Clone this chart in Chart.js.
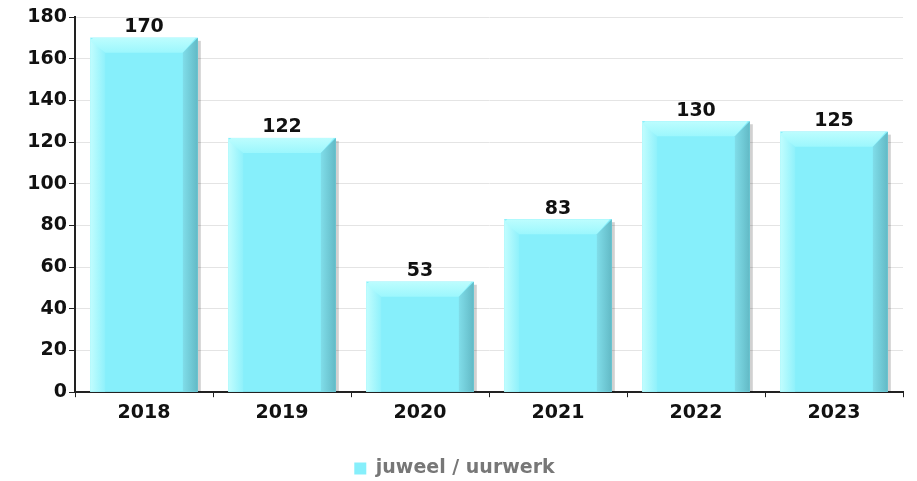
<!DOCTYPE html>
<html>
<head>
<meta charset="utf-8">
<script src="https://cdn.jsdelivr.net/npm/chart.js@4/dist/chart.umd.min.js"></script>
<style>
  html, body { margin: 0; padding: 0; background: #fff; }
  #wrap { width: 917px; height: 481px; }
</style>
</head>
<body>
<div id="wrap"><canvas id="myChart" width="917" height="481"></canvas></div>
<script>
// DATA
const years = ["2018", "2019", "2020", "2021", "2022", "2023"];
const seriesName = "juweel / uurwerk";
const counts = [170, 122, 53, 83, 130, 125];
const yTicks = [0, 20, 40, 60, 80, 100, 120, 140, 160, 180];

const FACE = "#86effb";
const BEVEL = 15;

// bevelled bar faces, drawn on top of the plain bars
const bevelBars = {
    id: "bevelBars",
    afterDatasetsDraw(chart) {
        const ctx = chart.ctx;
        const values = chart.data.datasets[0].data;
        chart.getDatasetMeta(0).data.forEach((bar, i) => {
            const l = bar.x - bar.width / 2;
            const r = bar.x + bar.width / 2;
            const t = bar.y;
            const b = bar.base;
            const k = Math.min(BEVEL, (b - t) / 2);
            ctx.save();

            // soft shadow on the right
            ctx.fillStyle = "rgba(0,0,0,0.18)";
            ctx.fillRect(r, t + 3, 3, b - t - 3);

            ctx.fillStyle = FACE;
            ctx.fillRect(l, t, r - l, b - t);

            // left light strip
            let g = ctx.createLinearGradient(l, 0, l + k, 0);
            g.addColorStop(0, "#c2fdfe");
            g.addColorStop(1, "#8ff1fb");
            ctx.fillStyle = g;
            ctx.beginPath();
            ctx.moveTo(l, t);
            ctx.lineTo(l + k, t + k);
            ctx.lineTo(l + k, b);
            ctx.lineTo(l, b);
            ctx.closePath();
            ctx.fill();

            // top light strip
            g = ctx.createLinearGradient(0, t, 0, t + k);
            g.addColorStop(0, "#bdfdfe");
            g.addColorStop(1, "#9cf7fd");
            ctx.fillStyle = g;
            ctx.beginPath();
            ctx.moveTo(l + 3, t);
            ctx.lineTo(r - 2, t);
            ctx.lineTo(r - k, t + k);
            ctx.lineTo(l + k, t + k);
            ctx.lineTo(l, t + 3);
            ctx.closePath();
            ctx.fill();

            // right dark strip
            g = ctx.createLinearGradient(r - k, 0, r, 0);
            g.addColorStop(0, "#80dde9");
            g.addColorStop(1, "#62b9c5");
            ctx.fillStyle = g;
            ctx.beginPath();
            ctx.moveTo(r, t);
            ctx.lineTo(r, b);
            ctx.lineTo(r - k, b);
            ctx.lineTo(r - k, t + k);
            ctx.closePath();
            ctx.fill();

            // value label
            ctx.fillStyle = "#111";
            ctx.font = "bold 19px 'DejaVu Sans'";
            ctx.textAlign = "center";
            ctx.textBaseline = "bottom";
            ctx.fillText(String(values[i]), bar.x, t - 1);
            ctx.restore();
        });
    },
};

// CONFIG
const config = {
    type: "bar",
    data: {
        labels: years,
        datasets: [
            {
                label: seriesName,
                data: counts,
                backgroundColor: FACE,
                borderWidth: 0,
                categoryPercentage: 1,
                barPercentage: 0.78,
            },
        ],
    },
    options: {
        responsive: false,
        animation: false,
        layout: { padding: { top: 17, right: 14, left: 6, bottom: -7 } },
        scales: {
            x: {
                grid: {
                    display: true,
                    drawOnChartArea: false,
                    offset: true,
                    tickLength: 5,
                    color: "#222",
                },
                border: { color: "#222", width: 2 },
                ticks: {
                    color: "#111",
                    font: { family: "DejaVu Sans", size: 19, weight: "bold" },
                    padding: 4,
                },
            },
            y: {
                min: 0,
                max: 180,
                afterBuildTicks(scale) {
                    scale.ticks = yTicks.map((v) => ({ value: v }));
                },
                afterFit(scale) {
                    scale.width = 69;
                },
                grid: {
                    color: "#e4e4e4",
                    tickColor: "#222",
                    tickLength: 6,
                },
                border: { color: "#222", width: 2 },
                ticks: {
                    color: "#111",
                    font: { family: "DejaVu Sans", size: 19, weight: "bold" },
                    padding: 2,
                },
            },
        },
        plugins: {
            legend: {
                position: "bottom",
                labels: {
                    color: "#777",
                    font: { family: "DejaVu Sans", size: 19, weight: "bold" },
                    boxWidth: 12,
                    boxHeight: 12,
                    padding: 31,
                },
            },
            tooltip: { enabled: false },
        },
    },
    plugins: [bevelBars],
};

const myChart = new Chart(document.getElementById("myChart"), config);
</script>
</body>
</html>
